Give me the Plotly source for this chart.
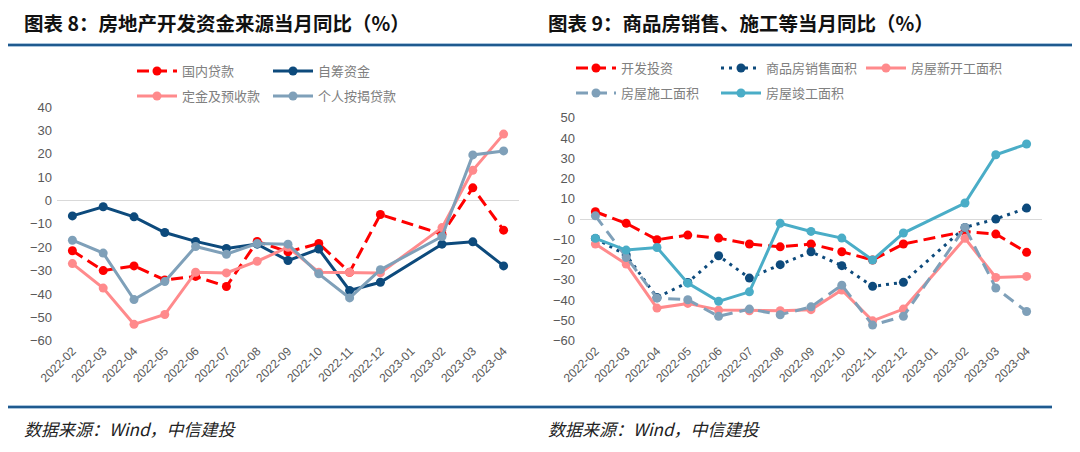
import plotly.graph_objects as go

months = ["2022-02", "2022-03", "2022-04", "2022-05", "2022-06", "2022-07", "2022-08",
          "2022-09", "2022-10", "2022-11", "2022-12", "2023-01", "2023-02", "2023-03", "2023-04"]

# Chart 8: funding sources (monthly YoY, %)
domestic_loans = [-21.5, -30, -28, -34, -32.5, -36.8, -17.5, -22, -18.4, -30.7, -6, None, -14.4, 5.4, -12.7]
self_raised = [-6.6, -2.7, -7, -13.7, -17.5, -20.5, -18.7, -25.7, -20.8, -38.5, -35, None, -18.7, -17.7, -28]
deposits_prepay = [-27, -37.5, -53, -48.8, -30.7, -31, -26, -20, -30.7, -30.7, -31, None, -11.6, 12.9, 28.4]
mortgages = [-17, -22.5, -42.4, -34.7, -19.7, -23, -18.4, -18.7, -31.4, -41.7, -29.6, None, -15.4, 19.5, 21.2]

# Chart 9: investment, sales, construction (monthly YoY, %)
dev_invest = [3.6, -2.1, -10.2, -7.9, -9.4, -12.3, -13.7, -12.3, -16.1, -20.2, -12.3, None, -6.1, -7.4, -16.4]
sales_area = [-9.6, -17.7, -38.7, -31.3, -18.1, -29.1, -22.5, -16.1, -23, -33.2, -31.2, None, -4.1, 0, 5.4]
new_starts = [-12.3, -22.2, -43.9, -41.6, -44.9, -45.2, -45.2, -44.7, -35, -50.2, -44.4, None, -9.5, -28.8, -28.3]
under_constr = [1.6, -19, -39, -39.8, -48, -44.4, -47.2, -43.3, -32.6, -52.3, -48, None, -4.1, -34, -45.6]
completed = [-9.5, -15.3, -14, -31.6, -40.6, -35.9, -2.1, -6.1, -9.4, -20.2, -6.9, None, 7.9, 31.7, 37]

RED = "#ff0000"
NAVY = "#0d4a7c"
PINK = "#ff8a8c"
GREYBLUE = "#7fa0b9"
CYAN = "#4aadc7"

W, H = 1080, 452
OFF = 8  # page body margin offset


def px(x):
    return (x - OFF) / W


def py(y):
    return 1 - (y - OFF) / H


fig = go.Figure()


def add(name, y, color, dash, xa, ya, legend, width=3, msize=9):
    fig.add_trace(go.Scatter(
        x=months, y=y, name=name, mode="lines+markers", connectgaps=True,
        line=dict(color=color, width=width, dash=dash),
        marker=dict(color=color, size=msize, symbol="circle"),
        xaxis=xa, yaxis=ya, legend=legend))


add("国内贷款", domestic_loans, RED, "12px,6px", "x", "y", "legend")
add("自筹资金", self_raised, NAVY, "solid", "x", "y", "legend")
add("定金及预收款", deposits_prepay, PINK, "solid", "x", "y", "legend2")
add("个人按揭贷款", mortgages, GREYBLUE, "solid", "x", "y", "legend2")

add("开发投资", dev_invest, RED, "12px,6px", "x2", "y2", "legend3")
add("商品房销售面积", sales_area, NAVY, "3px,5px", "x2", "y2", "legend3")
add("房屋新开工面积", new_starts, PINK, "solid", "x2", "y2", "legend3")
add("房屋施工面积", under_constr, GREYBLUE, "12px,7px", "x2", "y2", "legend4")
add("房屋竣工面积", completed, CYAN, "solid", "x2", "y2", "legend4")

tickfont = dict(family="Liberation Sans, Arial, sans-serif", size=13, color="#595959")
xtickfont = dict(family="Liberation Sans, Arial, sans-serif", size=12, color="#595959")


def xaxis(dom, anchor):
    return dict(domain=dom, type="category", categoryorder="array", categoryarray=months,
                range=[-0.5, 14.5], tickangle=-45, tickfont=xtickfont, showgrid=False,
                showline=False, zeroline=False, ticks="", fixedrange=True, anchor=anchor)


def yaxis(dom, rng, anchor):
    return dict(domain=dom, range=rng, dtick=10, tick0=0, tickfont=tickfont, showgrid=False,
                zeroline=True, zerolinecolor="#d9d9d9", zerolinewidth=1, showline=False,
                ticks="", anchor=anchor, ticklabelstandoff=4)


legfont = dict(family="Noto Sans CJK SC, sans-serif", size=13, color="#808080")


def legend(x, y, ew):
    return dict(x=x / W, y=1 - y / H, xanchor="left", yanchor="middle", orientation="h",
                font=legfont, itemwidth=40, entrywidth=ew, entrywidthmode="pixels",
                bgcolor="rgba(0,0,0,0)", tracegroupgap=0, itemclick=False)


fig.update_layout(
    width=W, height=H, margin=dict(l=0, r=0, t=0, b=0, autoexpand=False),
    paper_bgcolor="white", plot_bgcolor="white", showlegend=True,
    xaxis=xaxis([px(57), px(519)], "y"),
    yaxis=yaxis([py(340.7), py(107)], [-60, 40], "x"),
    xaxis2=xaxis([px(580), px(1042)], "y2"),
    yaxis2=yaxis([py(340.7), py(117.7)], [-60, 50], "x2"),
    legend=legend(124, 63, 81),
    legend2=legend(124, 88, 81),
    legend3=legend(563, 60, 90),
    legend4=legend(563, 85, 90),
)

# Header / footer rules
for yy, x1 in [(45, 1072), (407, 1052)]:
    fig.add_shape(type="line", xref="paper", yref="paper", x0=px(8), x1=px(x1),
                  y0=py(yy), y1=py(yy), line=dict(color="#a9c4dc", width=4))
    fig.add_shape(type="line", xref="paper", yref="paper", x0=px(8), x1=px(x1),
                  y0=py(yy), y1=py(yy), line=dict(color="#1f5a8f", width=2))

titlefont = dict(family="Noto Sans CJK SC, sans-serif", size=19.5, color="#111111")
footfont = dict(family="Noto Sans CJK SC, sans-serif", size=17, color="#222222")
for x0, txt in [(22, "<b>图表 8：房地产开发资金来源当月同比（%）</b>"),
                (546, "<b>图表 9：商品房销售、施工等当月同比（%）</b>")]:
    fig.add_annotation(x=px(x0), y=py(22), xref="paper", yref="paper", text=txt,
                       showarrow=False, xanchor="left", yanchor="middle", font=titlefont)
for x0 in [22, 546]:
    fig.add_annotation(x=px(x0), y=py(428), xref="paper", yref="paper",
                       text="<i>数据来源：Wind，中信建投</i>",
                       showarrow=False, xanchor="left", yanchor="middle", font=footfont)

fig.write_html("out.html")
